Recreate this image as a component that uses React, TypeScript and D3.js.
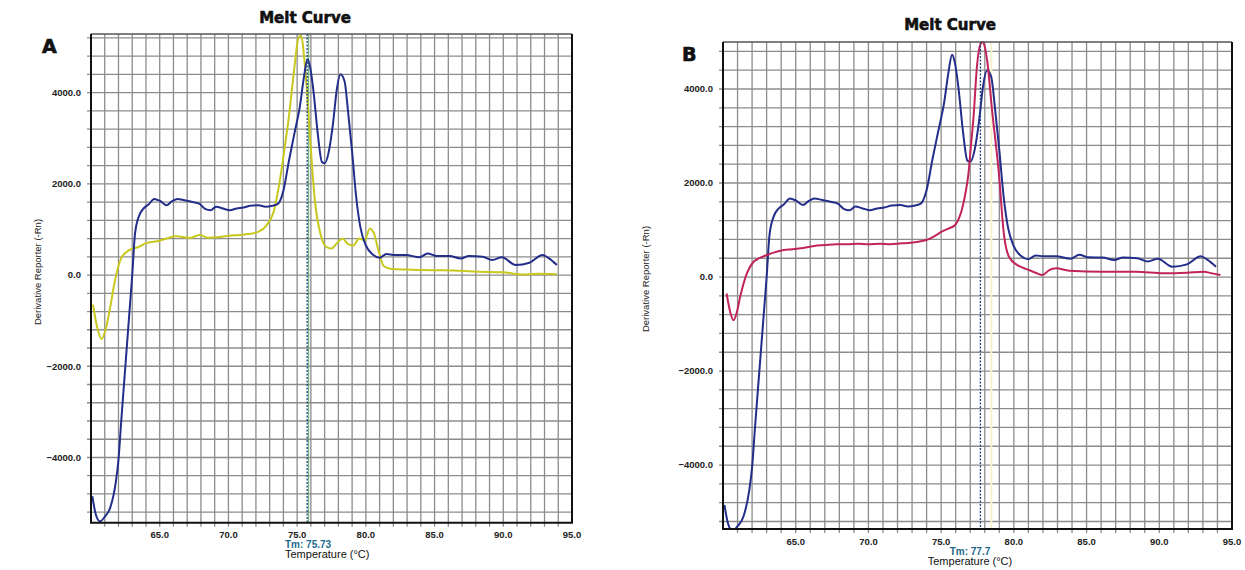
import React, { useRef, useEffect } from "react";
import * as d3 from "d3";

// sample curve shared by both panels (navy)
const blueTemps = [60.1, 60.35, 60.65, 61.0, 61.4, 61.8, 62.0, 62.2, 62.5, 62.8, 63.0, 63.2, 63.5, 63.8, 64.2, 64.6, 65.0, 65.5, 65.9, 66.3, 66.8, 67.4, 67.9, 68.3, 68.7, 69.1, 69.6, 70.1, 70.6, 71.1, 71.6, 72.2, 72.7, 73.2, 73.6, 74.0, 74.4, 74.8, 75.2, 75.5, 75.75, 75.95, 76.2, 76.5, 76.8, 77.0, 77.3, 77.6, 77.9, 78.15, 78.45, 78.7, 79.0, 79.3, 79.6, 80.0, 80.5, 81.0, 81.5, 82.0, 82.9, 83.9, 84.5, 85.1, 86.1, 86.9, 87.5, 88.5, 89.2, 89.9, 90.9, 91.9, 92.85, 93.3, 93.9];
const blueValues = [-4850, -5250, -5400, -5300, -5100, -4550, -4050, -3200, -2000, -800, 0, 900, 1300, 1450, 1550, 1670, 1630, 1530, 1620, 1670, 1640, 1600, 1560, 1450, 1420, 1500, 1460, 1420, 1460, 1480, 1520, 1530, 1500, 1520, 1560, 1850, 2500, 3100, 3700, 4350, 4730, 4550, 4000, 3100, 2480, 2450, 2700, 3300, 4100, 4400, 4250, 3600, 2700, 1700, 1050, 650, 450, 380, 460, 440, 440, 390, 475, 420, 415, 365, 415, 400, 330, 390, 220, 270, 440, 370, 220];

// panel A second curve (yellow)
const yellowTemps = [60.15, 60.45, 60.78, 61.1, 61.4, 61.75, 62.2, 62.8, 63.5, 64.0, 64.8, 65.5, 66.2, 66.8, 67.2, 67.9, 68.5, 69.2, 70.0, 70.8, 71.5, 72.2, 72.8, 73.3, 73.7, 74.1, 74.45, 74.8, 75.1, 75.3, 75.5, 75.7, 76.0, 76.3, 76.7, 77.1, 77.5, 77.9, 78.3, 78.7, 79.1, 79.5, 79.9, 80.3, 80.6, 80.95, 81.3, 81.9, 83.0, 84.1, 85.8, 88.25, 90.0, 91.4, 92.5, 93.9];
const yellowValues = [-650, -1150, -1400, -1150, -700, -110, 370, 550, 620, 700, 740, 800, 850, 830, 810, 880, 820, 830, 860, 880, 900, 950, 1100, 1400, 2000, 2800, 3600, 4550, 5200, 5250, 4800, 4100, 2750, 1600, 900, 620, 580, 700, 800, 680, 650, 800, 760, 1020, 900, 500, 200, 130, 120, 110, 105, 72, 60, 10, 30, 20];

// panel B second curve (crimson)
const redTemps = [60.25, 60.5, 60.72, 60.95, 61.18, 61.64, 62.1, 62.5, 63.03, 63.6, 64.18, 64.8, 65.34, 66.26, 67.0, 67.8, 68.5, 69.3, 70.0, 70.8, 71.5, 72.27, 72.9, 73.42, 74.11, 74.6, 75.04, 75.5, 75.96, 76.2, 76.42, 76.65, 76.88, 77.05, 77.23, 77.46, 77.7, 77.85, 78.0, 78.16, 78.5, 78.97, 79.31, 79.66, 80.24, 80.6, 81.04, 81.5, 81.97, 82.43, 82.9, 83.8, 86.1, 88.4, 90.3, 91.9, 93.06, 93.6, 94.2];
const redValues = [-350, -750, -920, -750, -420, 80, 325, 400, 470, 530, 575, 590, 610, 660, 680, 700, 700, 710, 700, 710, 700, 717, 730, 751, 802, 880, 964, 1030, 1106, 1230, 1425, 1750, 2206, 2800, 3411, 4474, 4950, 5000, 4900, 4617, 3553, 2206, 930, 432, 255, 200, 149, 90, 43, 149, 185, 134, 113, 113, 79, 92, 113, 80, 43];

const xTickLabels = [65, 70, 75, 80, 85, 90, 95];
const yTickLabels = [-4000, -2000, 0, 2000, 4000];

const panels = [
  {
    letter: "A", left: 91, right: 572, top: 34, bottom: 522.7,
    yMin: -5430, yMax: 5285, tm: 75.73, tmText: "Tm: 75.73",
    titleX: 305, titleY: 22.7, letterX: 42, letterY: 53, ylabelX: 41, ylabelY: 272,
    series: [
      { temps: yellowTemps, values: yellowValues, color: "#c8c81e" },
      { temps: blueTemps, values: blueValues, color: "#232d8a" },
    ],
  },
  {
    letter: "B", left: 723, right: 1232, top: 42, bottom: 529,
    yMin: -5360, yMax: 5000, tm: 77.7, tmText: "Tm: 77.7",
    titleX: 950, titleY: 30, letterX: 682, letterY: 61, ylabelX: 649, ylabelY: 279,
    series: [
      { temps: blueTemps, values: blueValues, color: "#232d8a" },
      { temps: redTemps, values: redValues, color: "#c1245a" },
    ],
  },
];

const App = () => {
  const svgRef = useRef(null);

  useEffect(() => {
    document.body.style.margin = "0";
    const svg = d3.select(svgRef.current);
    svgRef.current.querySelectorAll("*").forEach((n) => n.remove());
    const tickFont = "'Liberation Sans', Arial, sans-serif";

    panels.forEach((p, pi) => {
      const x = d3.scaleLinear().domain([60, 95]).range([p.left, p.right]);
      const y = d3.scaleLinear().domain([p.yMin, p.yMax]).range([p.bottom, p.top]);
      const g = svg.append("g");

      // grid, one line per degree and per 400 units
      g.selectAll(".vgrid")
        .data(d3.range(61, 95))
        .join("line")
        .attr("x1", (d) => x(d)).attr("x2", (d) => x(d))
        .attr("y1", p.top).attr("y2", p.bottom + 4)
        .attr("stroke", "#8c8c8c").attr("stroke-width", 1.3);
      const hLines = d3.range(-5200, 5201, 400).filter((v) => y(v) > p.top + 2 && y(v) < p.bottom - 2);
      g.selectAll(".hgrid")
        .data(hLines)
        .join("line")
        .attr("x1", p.left - 4).attr("x2", p.right)
        .attr("y1", (d) => y(d)).attr("y2", (d) => y(d))
        .attr("stroke", "#8c8c8c").attr("stroke-width", 1.3);

      const clipId = "clip" + pi;
      svg.append("clipPath").attr("id", clipId)
        .append("rect")
        .attr("x", p.left).attr("y", p.top - 1)
        .attr("width", p.right - p.left).attr("height", p.bottom - p.top + 1);

      // Tm marker companions
      const tmx = x(p.tm);
      if (p.letter === "A") {
        g.append("line").attr("x1", tmx + 1.5).attr("x2", tmx + 1.5)
          .attr("y1", p.top).attr("y2", p.bottom)
          .attr("stroke", "#5aa870").attr("stroke-width", 1);
      } else {
        g.append("line").attr("x1", x(78.45)).attr("x2", x(78.45))
          .attr("y1", p.top).attr("y2", p.bottom)
          .attr("stroke", "#f4f2cc").attr("stroke-width", 2);
      }

      const line = d3.line()
        .x((d) => x(d[0]))
        .y((d) => y(d[1]))
        .curve(d3.curveMonotoneX);
      p.series.forEach((s) => {
        const pts = s.temps.map((t, i) => [t, s.values[i]]);
        g.append("path")
          .attr("d", line(pts))
          .attr("fill", "none")
          .attr("stroke", s.color)
          .attr("stroke-width", 2)
          .attr("clip-path", `url(#${clipId})`);
      });

      g.append("line").attr("x1", tmx).attr("x2", tmx)
        .attr("y1", p.top).attr("y2", p.bottom)
        .attr("stroke", "#1f3f7a").attr("stroke-width", 1.3)
        .attr("stroke-dasharray", "2,1.5");

      // frame
      g.append("line").attr("x1", p.left).attr("x2", p.right)
        .attr("y1", p.top).attr("y2", p.top)
        .attr("stroke", "#555").attr("stroke-width", 1.5);
      g.append("path")
        .attr("d", `M${p.left},${p.top}V${p.bottom}H${p.right}V${p.top}`)
        .attr("fill", "none").attr("stroke", "#111").attr("stroke-width", 2);

      // tick labels
      g.selectAll(".ylab")
        .data(yTickLabels)
        .join("text")
        .attr("x", p.left - 10)
        .attr("y", (d) => y(d) + 3.3)
        .attr("text-anchor", "end")
        .attr("font-family", tickFont)
        .attr("font-weight", "bold")
        .attr("font-size", 9.5)
        .attr("fill", "#222")
        .text((d) => d3.format(".1f")(d));
      g.selectAll(".xlab")
        .data(xTickLabels)
        .join("text")
        .attr("x", (d) => x(d))
        .attr("y", p.bottom + 15.5)
        .attr("text-anchor", "middle")
        .attr("font-family", tickFont)
        .attr("font-weight", "bold")
        .attr("font-size", 9.5)
        .attr("fill", "#222")
        .text((d) => d3.format(".1f")(d));

      g.append("text").attr("x", p.titleX).attr("y", p.titleY)
        .attr("text-anchor", "middle")
        .attr("font-family", "'DejaVu Sans', sans-serif")
        .attr("font-weight", "bold").attr("font-size", 15)
        .attr("fill", "#111").attr("stroke", "#111").attr("stroke-width", 0.6)
        .text("Melt Curve");
      g.append("text").attr("x", p.letterX).attr("y", p.letterY)
        .attr("font-family", "'DejaVu Sans', sans-serif")
        .attr("font-weight", "bold").attr("font-size", 19)
        .attr("fill", "#111").attr("stroke", "#111").attr("stroke-width", 0.7)
        .text(p.letter);
      g.append("text")
        .attr("transform", `translate(${p.ylabelX},${p.ylabelY}) rotate(-90)`)
        .attr("text-anchor", "middle")
        .attr("font-family", tickFont)
        .attr("font-size", 9.5)
        .attr("fill", "#222")
        .text("Derivative Reporter (-Rn)");

      const tmAnchor = p.letter === "A" ? "start" : "middle";
      const tmX = p.letter === "A" ? 285 : 970;
      g.append("text").attr("x", tmX).attr("y", p.bottom + 25.5)
        .attr("text-anchor", tmAnchor)
        .attr("font-family", tickFont)
        .attr("font-weight", "bold")
        .attr("font-size", 10)
        .attr("fill", "#1d6a8c")
        .text(p.tmText);
      g.append("text").attr("x", tmX).attr("y", p.bottom + 35.5)
        .attr("text-anchor", tmAnchor)
        .attr("font-family", tickFont)
        .attr("font-size", 11)
        .attr("fill", "#111")
        .text("Temperature (°C)");
    });
  }, []);

  return (
    <div style={{ position: "absolute", left: 0, top: 0 }}>
      <svg ref={svgRef} width={1245} height={570} style={{ display: "block", background: "#fff" }} />
    </div>
  );
};

export default App;
